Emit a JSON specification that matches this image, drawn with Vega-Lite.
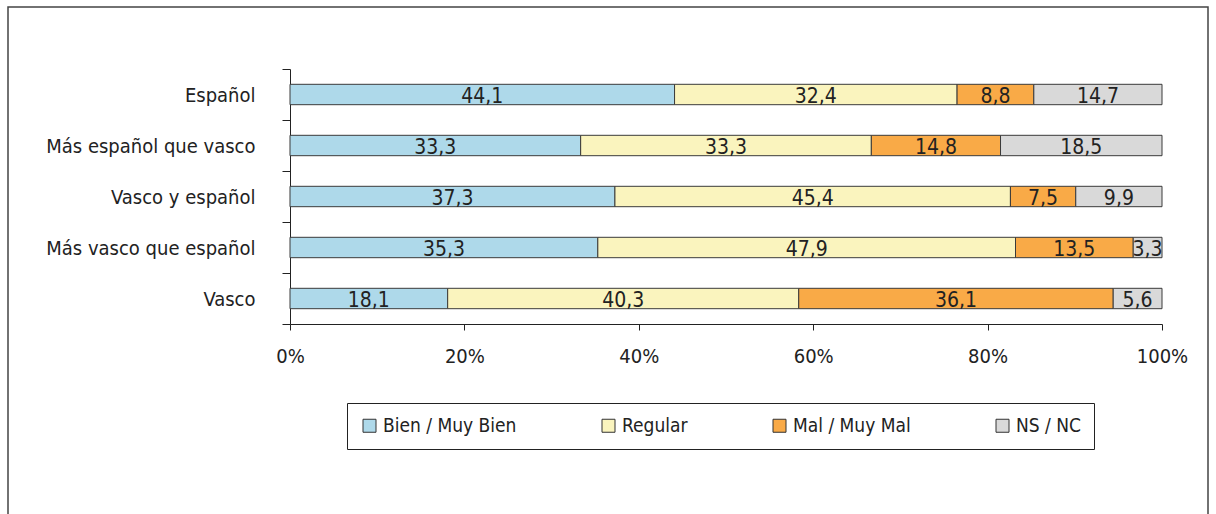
{
  "$schema": "https://vega.github.io/schema/vega-lite/v6.json",
  "width": 1200,
  "height": 512,
  "autosize": {"type": "none"},
  "padding": {"left": 8, "top": 7, "right": 8, "bottom": -5},
  "background": "white",
  "config": {
    "locale": {"number": {"decimal": ",", "thousands": ".", "grouping": [3], "currency": ["", " €"]}},
    "view": {"stroke": "#444", "strokeWidth": 1.5},
    "font": "DejaVu Sans Condensed, Roboto, sans-serif",
    "axis": {"domainColor": "#222", "tickColor": "#222", "labelColor": "#222", "grid": false, "title": null, "labelFont": "DejaVu Sans Condensed, Roboto, sans-serif"},
    "legend": {"labelFont": "DejaVu Sans Condensed, Roboto, sans-serif"}
  },
  "data": {
    "values": [
      {"identidad": "Español", "respuesta": "Bien / Muy Bien", "valor": 44.1},
      {"identidad": "Español", "respuesta": "Regular", "valor": 32.4},
      {"identidad": "Español", "respuesta": "Mal / Muy Mal", "valor": 8.8},
      {"identidad": "Español", "respuesta": "NS / NC", "valor": 14.7},
      {"identidad": "Más español que vasco", "respuesta": "Bien / Muy Bien", "valor": 33.3},
      {"identidad": "Más español que vasco", "respuesta": "Regular", "valor": 33.3},
      {"identidad": "Más español que vasco", "respuesta": "Mal / Muy Mal", "valor": 14.8},
      {"identidad": "Más español que vasco", "respuesta": "NS / NC", "valor": 18.5},
      {"identidad": "Vasco y español", "respuesta": "Bien / Muy Bien", "valor": 37.3},
      {"identidad": "Vasco y español", "respuesta": "Regular", "valor": 45.4},
      {"identidad": "Vasco y español", "respuesta": "Mal / Muy Mal", "valor": 7.5},
      {"identidad": "Vasco y español", "respuesta": "NS / NC", "valor": 9.9},
      {"identidad": "Más vasco que español", "respuesta": "Bien / Muy Bien", "valor": 35.3},
      {"identidad": "Más vasco que español", "respuesta": "Regular", "valor": 47.9},
      {"identidad": "Más vasco que español", "respuesta": "Mal / Muy Mal", "valor": 13.5},
      {"identidad": "Más vasco que español", "respuesta": "NS / NC", "valor": 3.3},
      {"identidad": "Vasco", "respuesta": "Bien / Muy Bien", "valor": 18.1},
      {"identidad": "Vasco", "respuesta": "Regular", "valor": 40.3},
      {"identidad": "Vasco", "respuesta": "Mal / Muy Mal", "valor": 36.1},
      {"identidad": "Vasco", "respuesta": "NS / NC", "valor": 5.6}
    ]
  },
  "transform": [
    {"calculate": "indexof(['Bien / Muy Bien','Regular','Mal / Muy Mal','NS / NC'], datum.respuesta)", "as": "orden"}
  ],
  "encoding": {
    "y": {
      "field": "identidad", "type": "nominal", "sort": null,
      "scale": {"domain": ["Español", "Más español que vasco", "Vasco y español", "Más vasco que español", "Vasco"], "range": [62, 317], "paddingInner": 0, "paddingOuter": 0},
      "axis": {"offset": -282, "tickBand": "extent", "tickSize": 8, "labelPadding": 27, "labelFontSize": 20, "labelBaseline": "alphabetic", "labelOffset": 7, "labelLimit": 0}
    },
    "order": {"field": "orden", "type": "quantitative"}
  },
  "layer": [
    {
      "mark": {"type": "bar", "stroke": "#3a3a3a", "strokeWidth": 1, "height": {"band": 0.4}},
      "encoding": {
        "x": {
          "field": "valor", "type": "quantitative", "stack": "normalize",
          "scale": {"domain": [0, 1], "range": [282, 1154], "nice": false},
          "axis": {"format": "%", "values": [0, 0.2, 0.4, 0.6, 0.8, 1], "offset": -195, "tickSize": 6, "labelPadding": 16, "labelFontSize": 20, "labelFlush": false}
        },
        "color": {
          "field": "respuesta", "type": "nominal",
          "scale": {"domain": ["Bien / Muy Bien", "Regular", "Mal / Muy Mal", "NS / NC"], "range": ["#AED9EA", "#FAF4BE", "#F9AA47", "#D9D9D9"]},
          "legend": {"orient": "none", "legendX": 339, "legendY": 396, "direction": "horizontal", "columns": 4, "title": null, "symbolType": "square", "symbolSize": 169, "symbolStrokeColor": "#333", "symbolStrokeWidth": 1, "labelFontSize": 19, "labelColor": "#222", "columnPadding": 82, "strokeColor": "#222", "padding": 13, "labelOffset": 4, "labelLimit": 0}
        }
      }
    },
    {
      "mark": {"type": "text", "fontSize": 21, "color": "#222", "baseline": "alphabetic", "dy": 8},
      "encoding": {
        "x": {"field": "valor", "type": "quantitative", "stack": "normalize", "bandPosition": 0.5},
        "text": {"field": "valor", "type": "quantitative", "format": ".1f"}
      }
    }
  ]
}
